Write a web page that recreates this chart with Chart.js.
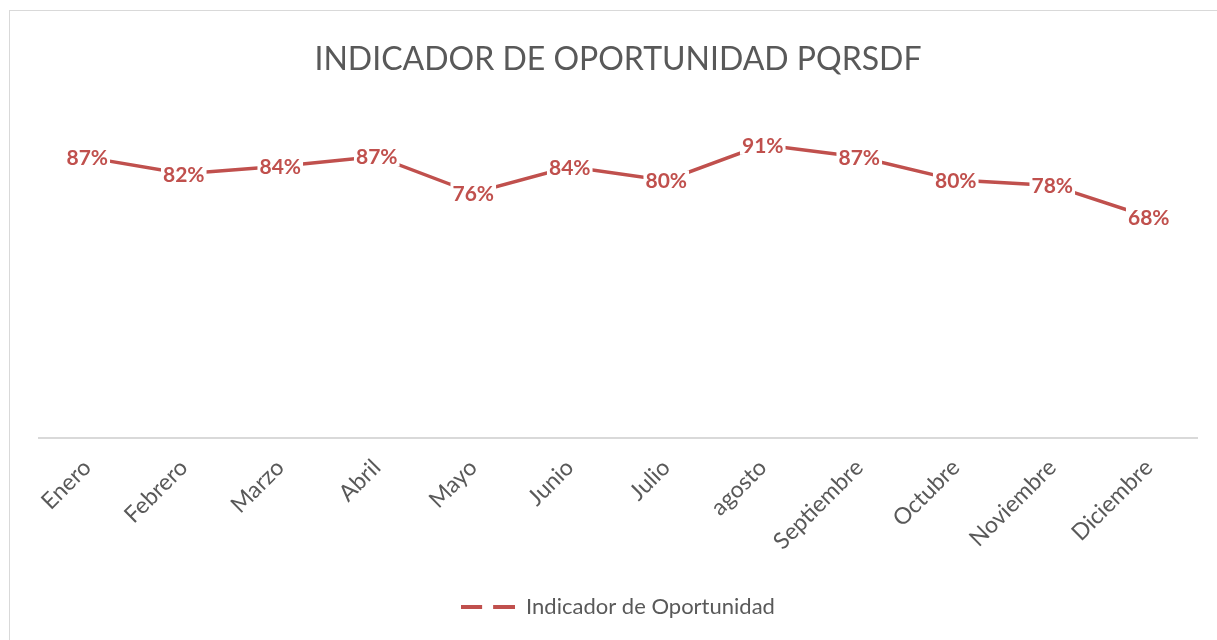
<!DOCTYPE html>
<html>
<head>
<meta charset="utf-8">
<script src="https://cdn.jsdelivr.net/npm/chart.js@4"></script>
<style>
	html, body { margin: 0; padding: 0; background: #fff; overflow: hidden; }
	#frame { position: absolute; left: 9px; top: 10px; width: 1300px; height: 700px; border: 1px solid #d9d9d9; }
	#wrap { position: absolute; left: 0; top: 0; width: 1217px; height: 640px; }
</style>
</head>
<body>
<div id="frame"></div>
<div id="wrap"><canvas id="myChart" width="1217" height="640"></canvas></div>
<script>
const months = ['Enero', 'Febrero', 'Marzo', 'Abril', 'Mayo', 'Junio', 'Julio', 'agosto', 'Septiembre', 'Octubre', 'Noviembre', 'Diciembre'];
const oportunidad = [0.870, 0.818, 0.842, 0.873, 0.757, 0.840, 0.797, 0.910, 0.871, 0.798, 0.781, 0.681];
const seriesName = 'Indicador de Oportunidad';
const chartTitle = 'INDICADOR DE OPORTUNIDAD PQRSDF';

const red = '#C0504D';
const grey = '#595959';

// dashed marker for the legend, like the excel one
const makeLegendMark = () => {
	let c = document.createElement('canvas');
	c.width = 54;
	c.height = 4;
	let ctx = c.getContext('2d');
	ctx.fillStyle = red;
	ctx.fillRect(0, 0, 21, 4);
	ctx.fillRect(32, 0, 22, 4);
	return c;
};
const legendMark = makeLegendMark();

// percent labels sitting on top of each point, white box behind
const pointLabels = {
	id: 'pointLabels',
	afterDatasetsDraw: (chart) => {
		const ctx = chart.ctx;
		const meta = chart.getDatasetMeta(0);
		ctx.save();
		ctx.font = 'bold 21px Lato';
		ctx.textAlign = 'center';
		ctx.textBaseline = 'middle';
		meta.data.forEach((pt, i) => {
			let txt = Math.round(oportunidad[i] * 100) + '%';
			let w = ctx.measureText(txt).width;
			ctx.fillStyle = '#fff';
			ctx.fillRect(pt.x - w / 2 - 2, pt.y - 10, w + 4, 20);
			ctx.fillStyle = red;
			ctx.fillText(txt, pt.x, pt.y + 1);
		});
		ctx.restore();
	},
};

const ctx = document.getElementById('myChart');
const chart = new Chart(ctx, {
	type: 'line',
	data: {
		labels: months,
		datasets: [
			{
				label: seriesName,
				data: oportunidad,
				borderColor: red,
				backgroundColor: red,
				borderWidth: 3.5,
				pointRadius: 0,
				tension: 0,
			},
		],
	},
	options: {
		responsive: false,
		animation: false,
		layout: { padding: { left: 39, right: 20, top: 0, bottom: 12 } },
		plugins: {
			title: {
				display: true,
				text: chartTitle,
				color: grey,
				font: { family: 'Lato', size: 32, weight: 'normal' },
				padding: { top: 40, bottom: 38 },
			},
			legend: {
				position: 'bottom',
				labels: {
					color: grey,
					font: { family: 'Lato', size: 22 },
					usePointStyle: true,
					pointStyleWidth: 54,
					generateLabels: (chart) => {
						let items = Chart.defaults.plugins.legend.labels.generateLabels(chart);
						items.forEach((it) => { it.pointStyle = legendMark; });
						return items;
					},
				},
			},
			tooltip: { enabled: false },
		},
		scales: {
			x: {
				offset: true,
				grid: { display: false, drawTicks: false },
				border: { display: true, color: '#d9d9d9', width: 2 },
				ticks: {
					color: grey,
					font: { family: 'Lato', size: 23 },
					minRotation: 45,
					maxRotation: 45,
					padding: 16,
				},
				afterFit: (scale) => {
					scale.height = scale.chart.height - 438 - scale.chart.legend.height - 12;
				},
			},
			y: {
				display: false,
				min: -0.02,
				max: 1,
			},
		},
	},
	plugins: [pointLabels],
});
</script>
</body>
</html>
